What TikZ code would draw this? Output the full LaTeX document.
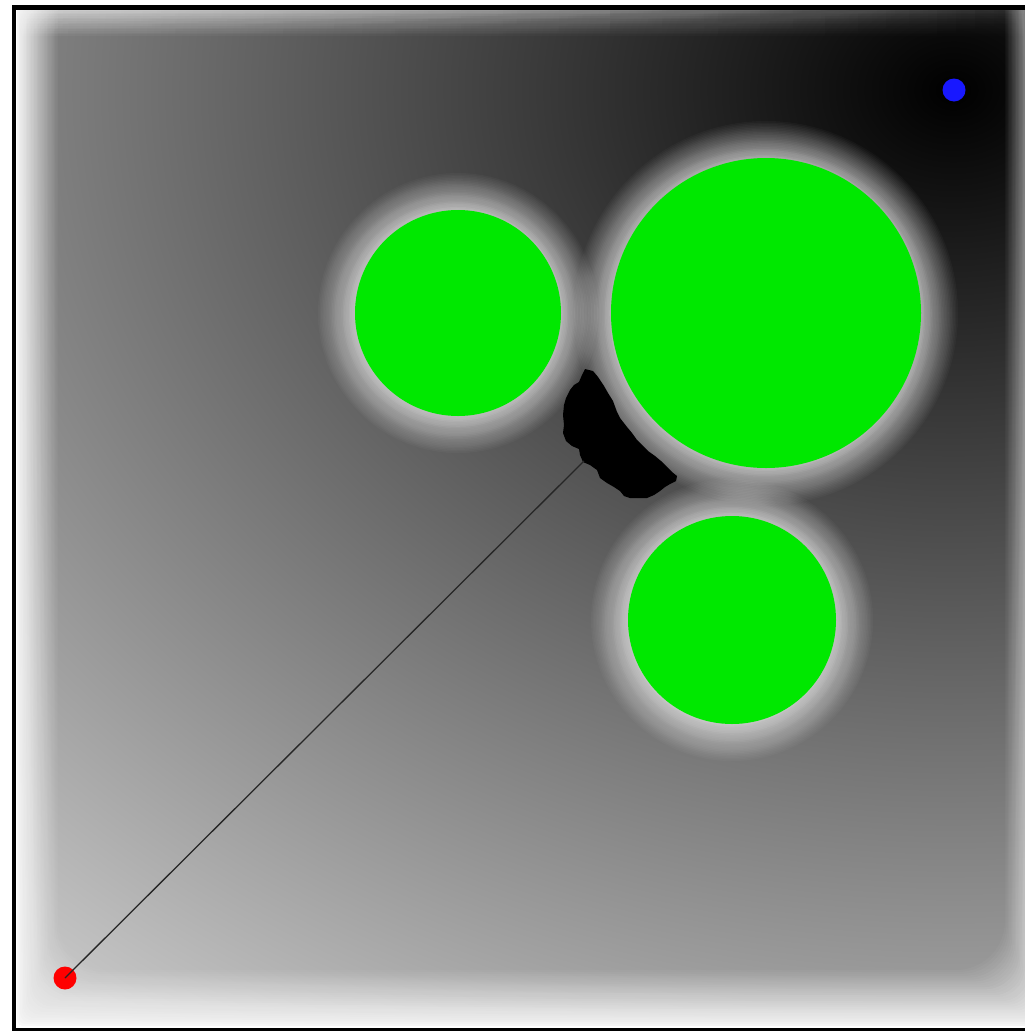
\documentclass[tikz,border=0pt]{standalone}
\usetikzlibrary{fadings}
\definecolor{obstgreen}{RGB}{0,232,0}
\definecolor{goalblue}{RGB}{24,24,255}
\definecolor{startred}{RGB}{255,0,0}
\pgfdeclareradialshading{goalfield}{\pgfpoint{0bp}{0bp}}{color(0bp)=(black); color(19.23bp)=(black!20); color(25bp)=(white); color(50bp)=(white)}
\tikzfading[name=topfade, left color=transparent!0, middle color=transparent!8, right color=transparent!85]
\tikzset{
  obstacle/.style={fill=obstgreen},
  dotnode/.style={circle, inner sep=0pt, minimum size=23pt, draw=none},
  pathline/.style={line width=1.3pt, black!85},
  framebar/.style={fill=black}
}
\begin{document}
\begin{tikzpicture}[x=1pt,y=-1pt]
\useasboundingbox (0,0) rectangle (1025,1031);
\fill[white] (0,0) rectangle (1025,1031);
\begin{scope}
  \clip (15.5,9.5) rectangle (1025,1028);
  % attractive potential
  \shade[shading=goalfield] (953,90) ellipse [x radius=1892, y radius=1529];
  % wall repulsion halo: left, bottom, right
  \foreach \k in {1,...,30}{
    \pgfmathsetmacro\s{\k/30}
    \pgfmathsetmacro\op{1/\k}
    \pgfmathsetmacro\L{16+42*\s}
    \pgfmathsetmacro\R{1047-42*\s}
    \pgfmathsetmacro\B{1028-58*\s}
    \pgfmathsetmacro\rc{4+45*\s}
    \fill[white, fill opacity=\op, even odd rule] (-100,-300) rectangle (1200,1200) [rounded corners=\rc pt] (\L,-200) rectangle (\R,\B);
  }
  % wall repulsion halo: top (weaker towards the goal)
  \foreach \k in {1,...,24}{
    \pgfmathsetmacro\op{1/\k}
    \pgfmathsetmacro\T{-4+40*\k/24}
    \fill[white, fill opacity=\op, path fading=topfade] (15.5,-10) rectangle (1025,\T);
  }
  % obstacle repulsion halos
  \foreach \cx/\cy/\r in {458/313/103, 766/313/155, 732/620/104}{
    \foreach \k in {1,...,24}{
      \pgfmathsetmacro\fk{1-0.64*(1-(\k-1)/24)}
      \pgfmathsetmacro\fkk{1-0.64*(1-\k/24)}
      \pgfmathsetmacro\op{1-\fk/\fkk}
      \pgfmathsetmacro\rad{\r+37*\k/24}
      \fill[white, fill opacity=\op] (\cx,\cy) circle [radius=\rad];
    }
  }
\end{scope}
% obstacles
\fill[obstacle] (458,313) circle [radius=103];
\fill[obstacle] (766,313) circle [radius=155];
\fill[obstacle] (732,620) circle [radius=104];
% trajectory cluster
\fill[black] (585,369) -- (593,371) -- (598,377) -- (604,386) -- (608,393) -- (613,401) -- (617,412) -- (620,418) -- (627,427) -- (632,433) -- (637,440) -- (643,446) -- (648,451) -- (655,456) -- (661,461) -- (667,467) -- (672,472) -- (677,476) -- (676,481) -- (670,484) -- (665,487) -- (660,491) -- (654,495) -- (647,498) -- (638,498) -- (630,498) -- (624,496) -- (620,491) -- (614,487) -- (607,483) -- (600,478) -- (597,470) -- (590,465) -- (583,462) -- (580,455) -- (579,449) -- (572,446) -- (566,441) -- (563,433) -- (564,425) -- (563,415) -- (564,405) -- (566,398) -- (570,390) -- (574,385) -- (579,382) -- (582,375) -- cycle;
\coordinate (pathend) at (584,461);
% start and goal
\node[dotnode, fill=startred] (start) at (65,978) {};
\node[dotnode, fill=goalblue] (goal) at (954,90) {};
\draw[pathline] (start.center) -- (pathend);
% frame
\fill[framebar] (12,5) rectangle (15.5,1031);
\fill[framebar] (12,5) rectangle (1025,9.5);
\fill[framebar] (12,1028) rectangle (1025,1031);
\end{tikzpicture}
\end{document}
